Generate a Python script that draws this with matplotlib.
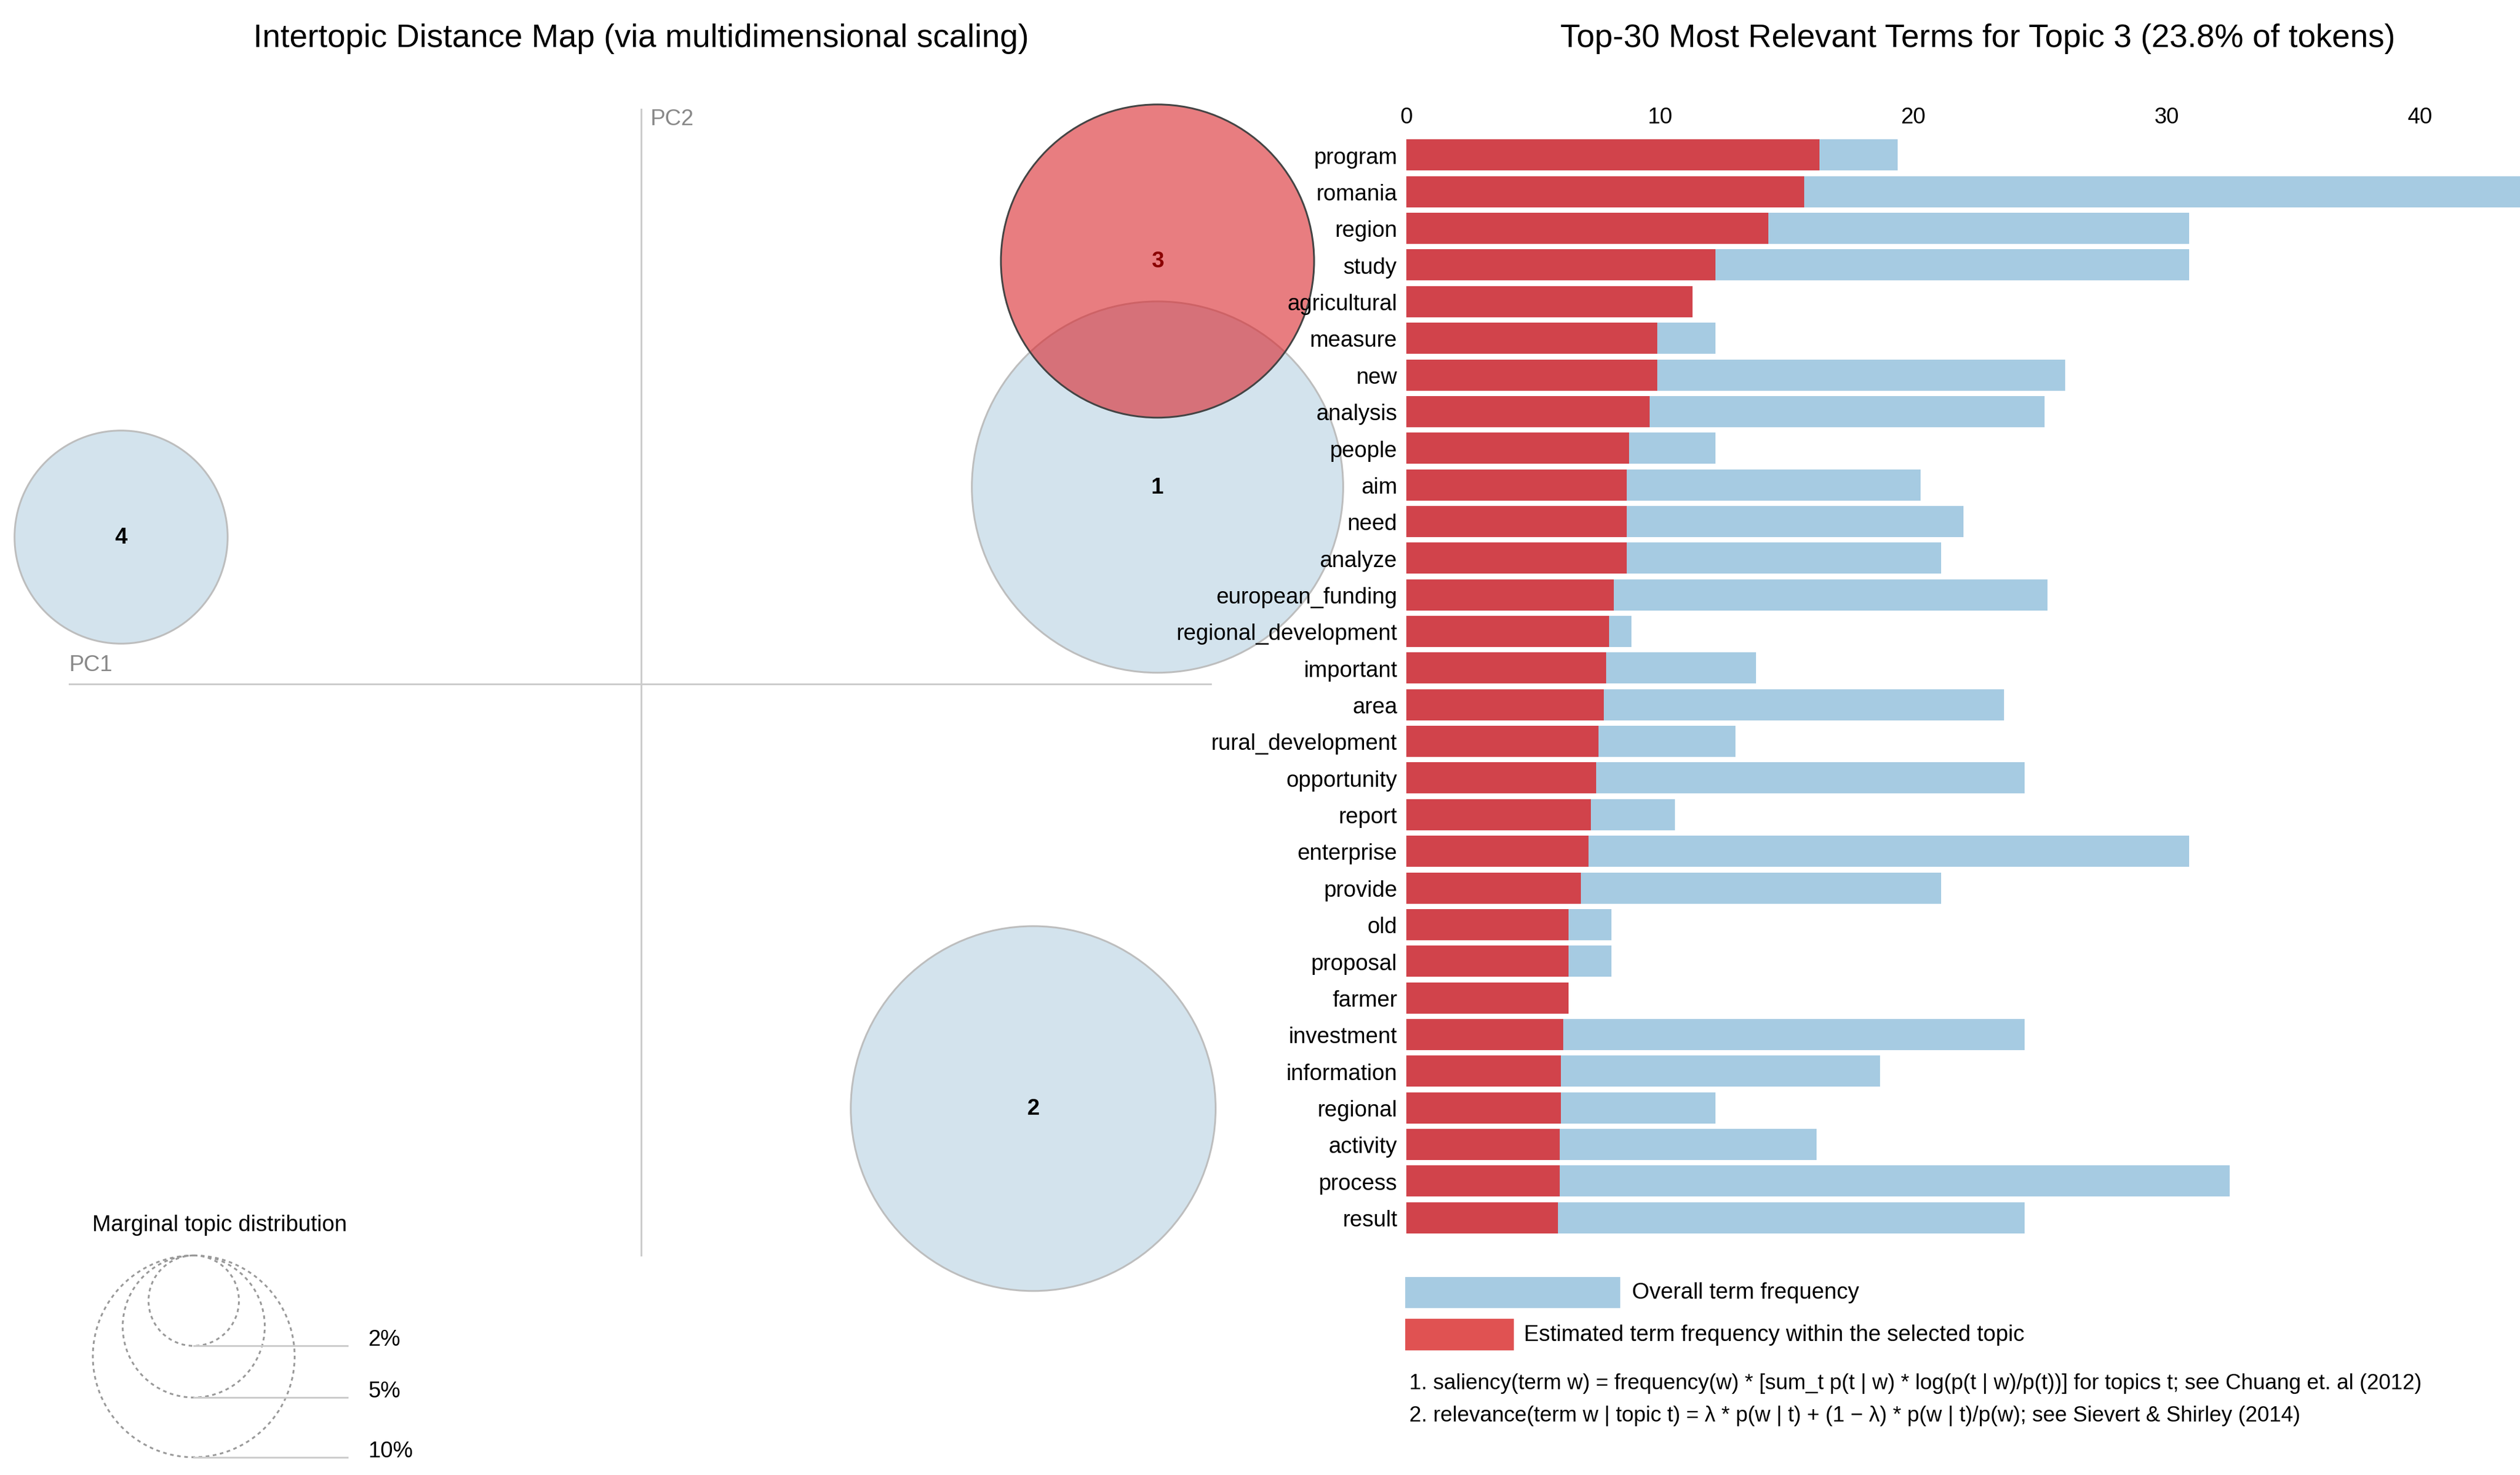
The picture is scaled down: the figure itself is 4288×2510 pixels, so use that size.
import matplotlib
matplotlib.use("Agg")
import matplotlib.pyplot as plt
from matplotlib.patches import Circle, Rectangle
plt.rcParams["font.family"] = "Liberation Sans"

terms = ["program","romania","region","study","agricultural","measure","new","analysis","people","aim",
         "need","analyze","european_funding","regional_development","important","area","rural_development",
         "opportunity","report","enterprise","provide","old","proposal","farmer","investment","information",
         "regional","activity","process","result"]
topic_freq = [16.3,15.7,14.3,12.2,11.3,9.9,9.9,9.6,8.8,8.7,8.7,8.7,8.2,8.0,7.9,7.8,7.6,7.5,7.3,7.2,6.9,
              6.4,6.4,6.4,6.2,6.1,6.1,6.05,6.05,6.0]
overall_freq = [19.4,45.0,30.9,30.9,11.3,12.2,26.0,25.2,12.2,20.3,22.0,21.1,25.3,8.9,13.8,23.6,13.0,24.4,
                10.6,30.9,21.1,8.1,8.1,6.4,24.4,18.7,12.2,16.2,32.5,24.4]
xticks = [0,10,20,30,40]

topic_ids = ["3","1","4","2"]
topic_x = [717,717,75,640]
topic_y = [162,302,333,687]
topic_r = [97,115,66,113]
legend_pcts = ["2%","5%","10%"]
legend_r = [28,44,62.5]

W, H = 1561, 914
fig = plt.figure(figsize=(W/100, H/100), dpi=274.7)
base = fig.add_axes([0,0,1,1])
base.set_xlim(0,W); base.set_ylim(H,0); base.axis("off")

BLUE_C = "#d1e2ed"; BLUE_B = "#a6cbe2"; RED_B = "#d1434b"
fs = 10.0

base.text(397,24,"Intertopic Distance Map (via multidimensional scaling)",ha="center",va="center",fontsize=14.5)
base.text(1225,24,"Top-30 Most Relevant Terms for Topic 3 (23.8% of tokens)",ha="center",va="center",fontsize=14.5)
base.plot([397,397],[68,778],color="#cccccc",lw=0.8)
base.plot([43,750],[424,424],color="#cccccc",lw=0.8)
base.text(403,74,"PC2",color="#888888",fontsize=10,va="center")
base.text(43,412,"PC1",color="#888888",fontsize=10,va="center")

for t,x,y,r in zip(topic_ids,topic_x,topic_y,topic_r):
    if t != "3":
        base.add_patch(Circle((x,y),r,facecolor=BLUE_C,edgecolor="#bbbbbb",lw=0.8,alpha=0.95))
for t,x,y,r in zip(topic_ids,topic_x,topic_y,topic_r):
    if t == "3":
        base.add_patch(Circle((x,y),r,facecolor="#d9262c",alpha=0.6,edgecolor="none",zorder=3))
        base.add_patch(Circle((x,y),r,facecolor="none",edgecolor="#444444",lw=0.8,zorder=3))
for t,x,y in zip(topic_ids,topic_x,topic_y):
    base.text(x,y,t,ha="center",va="center",fontsize=10,fontweight="bold",
              color="#8b0000" if t=="3" else "black",zorder=4)

base.text(57,759,"Marginal topic distribution",fontsize=10,va="center")
toppx = 778
for p,r in zip(legend_pcts,legend_r):
    base.add_patch(Circle((120,toppx+r),r,facecolor="none",edgecolor="#999999",lw=0.8,ls=(0,(2,2))))
    ly = toppx+2*r
    base.plot([120,215],[ly,ly],color="#cccccc",lw=0.8)
    base.text(228,ly-4,p,fontsize=10,va="center")

top, bot = 85, 766
ax = fig.add_axes([871/W, 1-bot/H, (W-871)/W, (bot-top)/H])
n = len(terms)
ys = list(range(n))
ax.barh(ys, overall_freq, height=0.85, color=BLUE_B)
ax.barh(ys, topic_freq, height=0.85, color=RED_B)
ax.set_ylim(n-0.5,-0.5)
ax.set_xlim(0,(W-871)/15.7)
ax.set_yticks(ys); ax.set_yticklabels(terms,fontsize=fs)
ax.set_xticks(xticks); ax.set_xticklabels([str(v) for v in xticks],fontsize=fs)
ax.xaxis.tick_top()
ax.tick_params(length=0,pad=4)
for s in ax.spines.values(): s.set_visible(False)

base.add_patch(Rectangle((871,792),132,18,color=BLUE_B))
base.text(1011,801,"Overall term frequency",fontsize=fs,va="center")
base.add_patch(Rectangle((871,818),66,18,color="#e05252"))
base.text(944,827,"Estimated term frequency within the selected topic",fontsize=fs,va="center")
base.text(873,857,"1. saliency(term w) = frequency(w) * [sum_t p(t | w) * log(p(t | w)/p(t))] for topics t; see Chuang et. al (2012)",fontsize=9.6,va="center")
base.text(873,877,"2. relevance(term w | topic t) = \u03bb * p(w | t) + (1 \u2212 \u03bb) * p(w | t)/p(w); see Sievert & Shirley (2014)",fontsize=9.6,va="center")

fig.savefig("out.png",dpi=274.7)
